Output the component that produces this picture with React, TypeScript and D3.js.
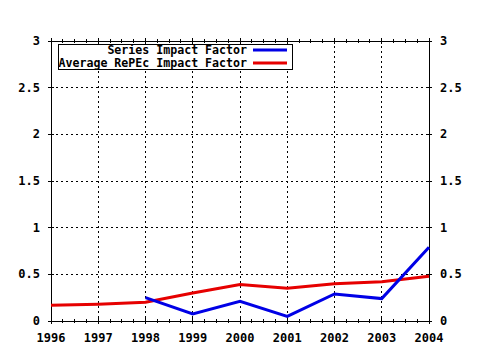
import React, { useEffect, useRef } from "react";
import * as d3 from "d3";

const years = [1996, 1997, 1998, 1999, 2000, 2001, 2002, 2003, 2004];
const averageRePEc = [0.17, 0.18, 0.2, 0.3, 0.39, 0.35, 0.4, 0.42, 0.48];
const seriesYears = [1998, 1999, 2000, 2001, 2002, 2003, 2004];
const seriesImpact = [0.25, 0.075, 0.21, 0.05, 0.29, 0.24, 0.79];
const yTicks = [0, 0.5, 1, 1.5, 2, 2.5, 3];
const legendLabels = ["Series Impact Factor", "Average RePEc Impact Factor"];

const W = 480, H = 350;
const L = 51, R = 429, T = 41, B = 321;
const FONT = "'DejaVu Sans Mono', 'Liberation Mono', monospace";
const BLUE = "#0000e6";
const RED = "#e60000";

export default function App() {
  const ref = useRef<SVGSVGElement>(null);
  useEffect(() => {
    const svg = d3.select(ref.current);
    svg.selectAll("*").remove();
    const x = d3.scaleLinear().domain([1996, 2004]).range([L, R]);
    const y = d3.scaleLinear().domain([0, 3]).range([B, T]);

    svg.append("rect").attr("width", W).attr("height", H).attr("fill", "#fff");

    const g = svg.append("g");
    // grid
    years.slice(1, -1).forEach((yr) => {
      g.append("line").attr("x1", x(yr)).attr("x2", x(yr)).attr("y1", T).attr("y2", B)
        .attr("stroke", "#000").attr("stroke-dasharray", "2,3").attr("shape-rendering", "crispEdges");
    });
    yTicks.slice(1, -1).forEach((v) => {
      g.append("line").attr("x1", L).attr("x2", R).attr("y1", y(v)).attr("y2", y(v))
        .attr("stroke", "#000").attr("stroke-dasharray", "2,3").attr("shape-rendering", "crispEdges");
    });

    // frame
    g.append("rect").attr("x", L).attr("y", T).attr("width", R - L).attr("height", B - T)
      .attr("fill", "none").attr("stroke", "#000").attr("shape-rendering", "crispEdges");

    // x ticks (major + minor) top and bottom
    for (let i = 0; i < years.length; i++) {
      const yr = years[i];
      for (let k = 0; k < 4; k++) {
        if (i === years.length - 1 && k > 0) break;
        const xv = x(yr + k / 4);
        const len = k === 0 ? 3 : 2;
        [B, T].forEach((yy) => {
          g.append("line").attr("x1", xv).attr("x2", xv).attr("y1", yy - len).attr("y2", yy + len)
            .attr("stroke", "#000").attr("shape-rendering", "crispEdges");
        });
      }
      g.append("text").attr("x", x(yr)).attr("y", 342).attr("text-anchor", "middle")
        .attr("font-family", FONT).attr("font-weight", "bold").attr("font-size", 12)
        .text(String(yr));
    }
    // y ticks
    yTicks.forEach((v) => {
      [L, R].forEach((xx) => {
        g.append("line").attr("x1", xx - 3).attr("x2", xx + 3).attr("y1", y(v)).attr("y2", y(v))
          .attr("stroke", "#000").attr("shape-rendering", "crispEdges");
      });
      g.append("text").attr("x", 40).attr("y", y(v) + 4).attr("text-anchor", "end")
        .attr("font-family", FONT).attr("font-weight", "bold").attr("font-size", 12)
        .text(String(v));
      g.append("text").attr("x", 440).attr("y", y(v) + 4).attr("text-anchor", "start")
        .attr("font-family", FONT).attr("font-weight", "bold").attr("font-size", 12)
        .text(String(v));
    });

    const line = d3.line<[number, number]>().x((d) => x(d[0])).y((d) => y(d[1]));
    g.append("path").datum(years.map((yr, i) => [yr, averageRePEc[i]] as [number, number]))
      .attr("d", line).attr("fill", "none").attr("stroke", RED).attr("stroke-width", 3);
    g.append("path").datum(seriesYears.map((yr, i) => [yr, seriesImpact[i]] as [number, number]))
      .attr("d", line).attr("fill", "none").attr("stroke", BLUE).attr("stroke-width", 3);

    // legend
    const lg = svg.append("g");
    lg.append("rect").attr("x", 58).attr("y", 44).attr("width", 234).attr("height", 25)
      .attr("fill", "#fff").attr("stroke", "#000").attr("shape-rendering", "crispEdges");
    const colors = [BLUE, RED];
    legendLabels.forEach((lab, i) => {
      const cy = 50 + i * 13;
      lg.append("text").attr("x", 247).attr("y", cy + 4).attr("text-anchor", "end")
        .attr("font-family", FONT).attr("font-weight", "bold").attr("font-size", 11.6)
        .text(lab);
      lg.append("line").attr("x1", 253).attr("x2", 287).attr("y1", cy).attr("y2", cy)
        .attr("stroke", colors[i]).attr("stroke-width", 3);
    });
  }, []);
  return (
    <svg ref={ref} width={W} height={H}
      style={{ position: "absolute", left: 0, top: 0, display: "block" }} />
  );
}
